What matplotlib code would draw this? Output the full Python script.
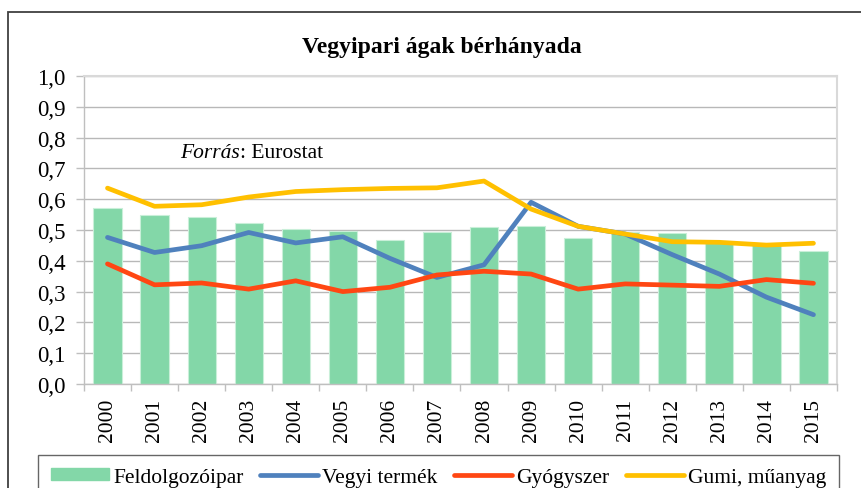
# ------------------------------------------
# Import Required Libraries
# ------------------------------------------
import numpy as np
import matplotlib
matplotlib.use("Agg")
import matplotlib.pyplot as plt
from matplotlib.patches import Rectangle
from matplotlib.lines import Line2D

# ------------------------------------------
# Data
# ------------------------------------------
years = ["2000", "2001", "2002", "2003", "2004", "2005", "2006", "2007",
         "2008", "2009", "2010", "2011", "2012", "2013", "2014", "2015"]

feldolgozoipar = [0.571, 0.549, 0.542, 0.523, 0.502, 0.498, 0.468, 0.494,
                  0.510, 0.512, 0.473, 0.493, 0.489, 0.459, 0.455, 0.432]
vegyi_termek = [0.476, 0.427, 0.449, 0.492, 0.458, 0.478, 0.408, 0.346,
                0.387, 0.590, 0.512, 0.487, 0.420, 0.357, 0.282, 0.225]
gyogyszer = [0.390, 0.322, 0.328, 0.308, 0.335, 0.300, 0.314, 0.354,
             0.366, 0.357, 0.308, 0.325, 0.321, 0.317, 0.339, 0.327]
gumi_muanyag = [0.636, 0.577, 0.582, 0.607, 0.625, 0.631, 0.635, 0.637,
                0.659, 0.568, 0.512, 0.487, 0.462, 0.460, 0.451, 0.457]

y_ticks = [0.0, 0.1, 0.2, 0.3, 0.4, 0.5, 0.6, 0.7, 0.8, 0.9, 1.0]
y_labels = ["0,0", "0,1", "0,2", "0,3", "0,4", "0,5", "0,6", "0,7", "0,8", "0,9", "1,0"]

# ------------------------------------------
# Figure setup
# ------------------------------------------
plt.rcParams['font.family'] = ['Liberation Serif', 'DejaVu Serif']

fig = plt.figure(figsize=(8.62, 4.89), dpi=100)
ax = fig.add_axes([0.0974, 0.2127, 0.971 - 0.0974, 0.8425 - 0.2127])

x = np.arange(len(years))

# bars + lines
ax.bar(x, feldolgozoipar, width=0.6, color='#83D7A8', edgecolor='#C9EFD9',
       linewidth=0.8, zorder=2, label='Feldolgozóipar')
ax.plot(x, vegyi_termek, color='#4F81BD', lw=3.4, solid_capstyle='round',
        solid_joinstyle='round', zorder=3, label='Vegyi termék')
ax.plot(x, gyogyszer, color='#FF4713', lw=3.4, solid_capstyle='round',
        solid_joinstyle='round', zorder=3, label='Gyógyszer')
ax.plot(x, gumi_muanyag, color='#FFC000', lw=3.4, solid_capstyle='round',
        solid_joinstyle='round', zorder=4, label='Gumi, műanyag')

# axes
ax.set_xlim(-0.5, len(years) - 0.5)
ax.set_ylim(0, 1.0)
ax.set_yticks(y_ticks)
ax.set_yticklabels(y_labels, fontsize=16.5)
ax.set_xticks(x)
ax.set_xticklabels(years, rotation=90, fontsize=15.5)
ax.set_xticks(np.arange(-0.5, len(years)), minor=True)
ax.tick_params(axis='x', which='major', length=0, pad=10)
ax.tick_params(axis='x', which='minor', length=5, color='#BFBFBF', width=1)
ax.tick_params(axis='y', length=6, color='#BFBFBF', width=1, pad=7)

ax.yaxis.grid(True, color='#B8B8B8', lw=1.0, zorder=0)
ax.set_axisbelow(True)
for side in ['left', 'bottom']:
    ax.spines[side].set_color('#BFBFBF')
    ax.spines[side].set_linewidth(1.0)
for side in ['top', 'right']:
    ax.spines[side].set_color('#D9D9D9')
    ax.spines[side].set_linewidth(1.5)

# source note
t1 = ax.text(1.54, 0.753, 'Forrás', style='italic', fontsize=15.5, va='center', ha='left')
ax.annotate(': Eurostat', xy=(1, 0), xycoords=t1, va='bottom', ha='left', fontsize=15.5)

# title
fig.text(0.513, 0.902, 'Vegyipari ágak bérhányada', fontsize=17, fontweight='bold',
         ha='center', va='center')

# outer frame of the chart
fig.add_artist(Rectangle((8 / 862, -0.2), 1.2, 1 - 13 / 489 + 0.2, transform=fig.transFigure,
                         fill=False, edgecolor='#404040', lw=1.3))

# legend
handles = [Rectangle((0, 0), 1, 1, color='#83D7A8'),
           Line2D([], [], color='#4F81BD', lw=3.4, solid_capstyle='round'),
           Line2D([], [], color='#FF4713', lw=3.4, solid_capstyle='round'),
           Line2D([], [], color='#FFC000', lw=3.4, solid_capstyle='round')]
labels = ['Feldolgozóipar', 'Vegyi termék', 'Gyógyszer', 'Gumi, műanyag']
leg = fig.legend(handles, labels, loc='upper left', bbox_to_anchor=(38 / 862, 1 - 456 / 489),
                 ncol=4, fontsize=15.5, frameon=True, fancybox=False, handlelength=2.7,
                 handleheight=0.5, handletextpad=0.2, columnspacing=0.75, borderpad=0.6,
                 borderaxespad=0)
leg.get_frame().set_edgecolor('#404040')
leg.get_frame().set_linewidth(1.0)

fig.savefig('out.png', dpi=100)
